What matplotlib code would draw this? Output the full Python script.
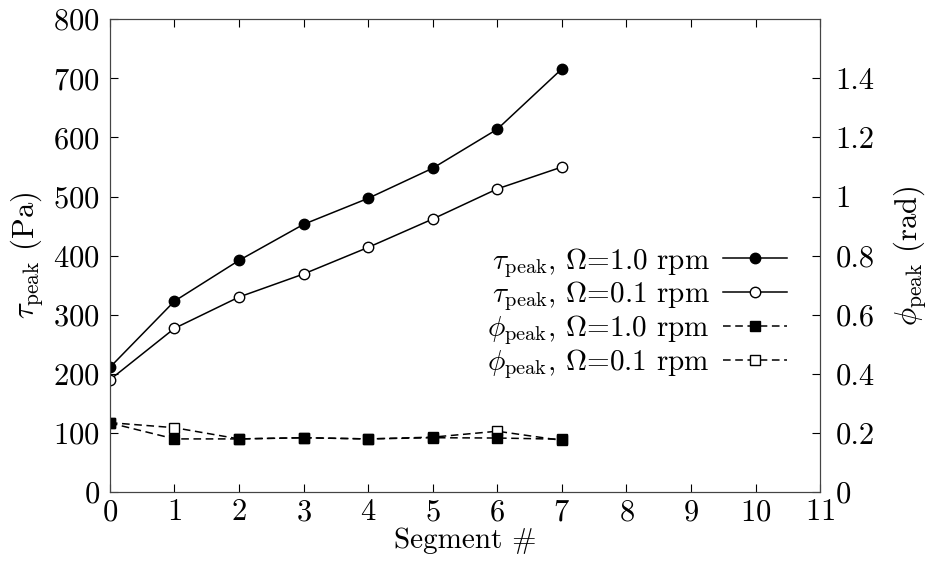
import matplotlib.pyplot as plt
from matplotlib.ticker import FormatStrFormatter

plt.rcParams['font.family'] = 'serif'
plt.rcParams['font.serif'] = ['cmr10', 'DejaVu Serif']
plt.rcParams['mathtext.fontset'] = 'cm'
plt.rcParams['axes.formatter.use_mathtext'] = True
plt.rcParams['font.size'] = 22

segments = [0, 1, 2, 3, 4, 5, 6, 7]
tau_fast = [211, 323, 392, 453, 497, 548, 614, 716]
tau_slow = [190, 277, 330, 369, 414, 462, 513, 550]
phi_fast = [0.234, 0.180, 0.180, 0.184, 0.180, 0.184, 0.183, 0.179]
phi_slow = [0.235, 0.218, 0.180, 0.184, 0.180, 0.186, 0.206, 0.175]

fig = plt.figure(figsize=(9.31, 5.65), dpi=100)
ax = fig.add_axes([0.118, 0.129, 0.763, 0.837])
ax2 = ax.twinx()

lw = 1.1
dash = (0, (5, 3))
h1, = ax.plot(segments, tau_fast, '-', color='black', lw=lw, marker='o', ms=7.5,
              mfc='black', mec='black')
h2, = ax.plot(segments, tau_slow, '-', color='black', lw=lw, marker='o', ms=7.5,
              mfc='white', mec='black')
h4, = ax2.plot(segments, phi_slow, linestyle=dash, color='black', lw=lw, marker='s', ms=6.5,
               mfc='white', mec='black')
h3, = ax2.plot(segments, phi_fast, linestyle=dash, color='black', lw=lw, marker='s', ms=6.5,
               mfc='black', mec='black')

ax.set_xlim(0, 11)
ax.set_ylim(0, 800)
ax2.set_ylim(0, 1.6)
ax.set_xticks(range(0, 12))
ax.set_yticks(range(0, 900, 100))
ax2.set_yticks([0, 0.2, 0.4, 0.6, 0.8, 1.0, 1.2, 1.4])
ax2.yaxis.set_major_formatter(FormatStrFormatter('%g'))

ax.tick_params(axis='x', direction='in', top=True, length=6, width=0.8, pad=5)
ax.tick_params(axis='y', direction='in', length=6, width=0.8, pad=7)
ax2.tick_params(axis='y', direction='in', length=6, width=0.8, pad=11)
for a in (ax, ax2):
    for s in a.spines.values():
        s.set_linewidth(0.8)
        s.set_color('#444444')

ax.set_xlabel('Segment #', labelpad=1, fontsize=21)
ax.set_ylabel(r'$\tau_{\rm peak}$ (Pa)', labelpad=6)
ax2.set_ylabel(r'$\phi_{\rm peak}$ (rad)', labelpad=12)

labels = [r'$\tau_{\rm peak}$, $\Omega$=1.0 rpm',
          r'$\tau_{\rm peak}$, $\Omega$=0.1 rpm',
          r'$\phi_{\rm peak}$, $\Omega$=1.0 rpm',
          r'$\phi_{\rm peak}$, $\Omega$=0.1 rpm']
ax2.legend([h1, h2, h3, h4], labels, loc='center right', bbox_to_anchor=(0.953, 0.378),
           frameon=False, markerfirst=False, borderpad=0, borderaxespad=0,
           handlelength=2.2, handletextpad=0.45, labelspacing=0.0, fontsize=21)

fig.savefig('out.png', dpi=100)
